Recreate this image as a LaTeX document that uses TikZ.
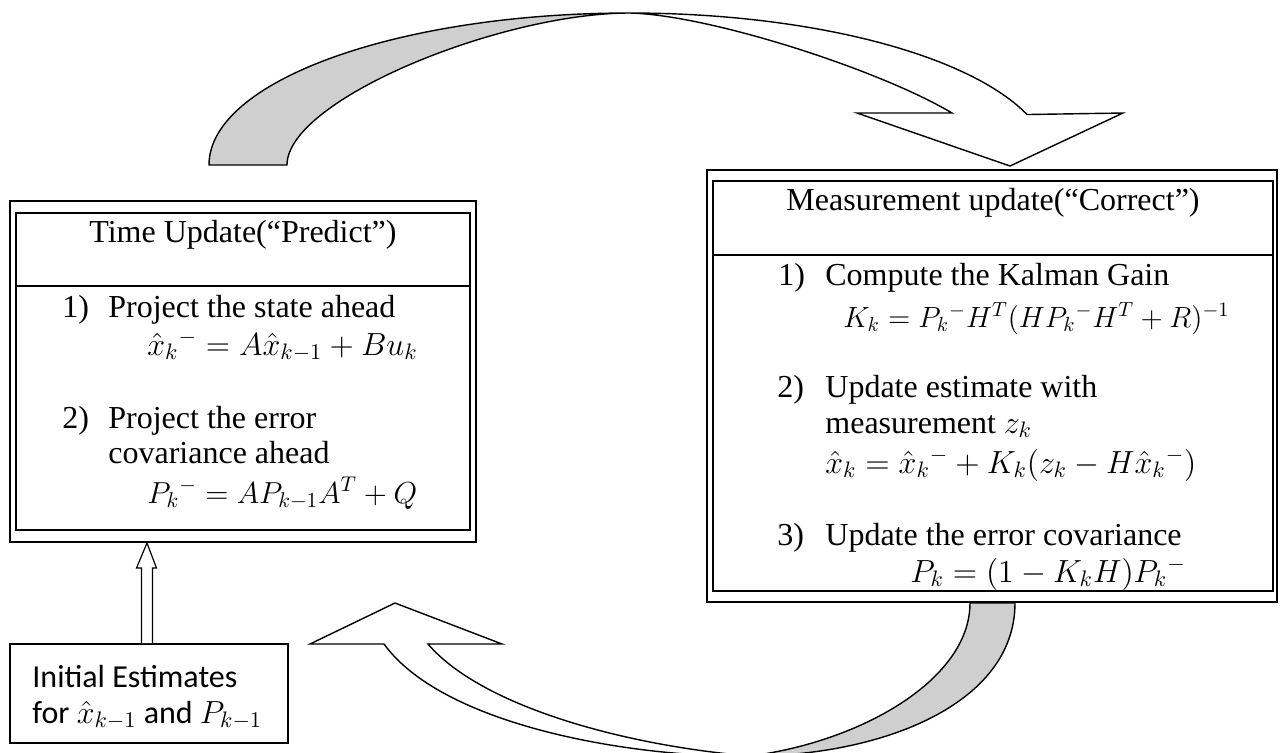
\RequirePackage{fix-cm}
\documentclass[tikz,border=0pt]{standalone}
\usepackage{amsmath}
\usepackage{fontspec}
\setmainfont{Liberation Serif}
\newfontfamily\cali{Carlito}
\usetikzlibrary{calc}
\definecolor{bandgray}{RGB}{207,207,207}
\begin{document}
\begin{tikzpicture}[x=0.5pt,y=-0.5pt,
  txt/.style={inner sep=0pt, anchor=base west, font=\fontsize{16}{18.5}\selectfont},
  ttl/.style={inner sep=0pt, anchor=base, font=\fontsize{16}{18.5}\selectfont},
  boxline/.style={draw, line width=1pt, inner sep=0pt},
  band/.style={draw, line width=0.7pt, fill=bandgray},
  face/.style={draw, line width=0.7pt, fill=white},
  hollow/.style={draw, line width=0.6pt, fill=white}]
\useasboundingbox (0,0) rectangle (1282,752);

% curved arrow on top (Predict -> Correct)
\path[band] (209,165) .. controls (209,81) and (398,13) .. (630,13)
  .. controls (500,13) and (287,100) .. (287,165) -- cycle;
\path[face] (630,13) -- plot[domain=90:19.4, samples=40] ({630+421*cos(\x)},{165-152*sin(\x)})
  -- (1123,113) -- (1010,166) -- (857,113) -- (952,113)
  .. controls (880,70) and (710,15) .. (630,13) -- cycle;

% curved arrow at bottom (Correct -> Predict)
\path[band] (1015,603) .. controls (1015,705) and (880,756) .. (750,756)
  .. controls (860,742) and (970,680) .. (970,603) -- cycle;
\path[face] (750,756) .. controls (640,758) and (445,728) .. (384,644)
  -- (310,644) -- (395,603) -- (502,644) -- (428,644)
  .. controls (480,705) and (620,745) .. (750,756) -- cycle;

% Time update box
\node[boxline, minimum width=233pt, minimum height=170.5pt] (tuo) at (243,371.5) {};
\node[boxline, minimum width=227pt, minimum height=158.5pt] (tu) at (243,371.5) {};
\coordinate (d1) at (0,286);
\draw[line width=1pt] (tu.west |- d1) -- (tu.east |- d1);
\node[ttl] (tut) at (243,242) {Time Update(“Predict”)};
\node[txt] (l1n) at (62,317) {1)};
\node[txt] (l1t) at (108,317) {Project the state ahead};
\node[txt] (l1f) at (147,355) {$\hat{x}_k{}^{-} = A\hat{x}_{k-1} + Bu_k$};
\node[txt] (l2n) at (62,428) {2)};
\node[txt] (l2t) at (108,428) {Project the error};
\node[txt] (l2u) at (108,463) {covariance ahead};
\node[txt, font=\fontsize{15.2}{18}\selectfont] (l2f) at (147,503) {$P_k{}^{-} = AP_{k-1}A^{T} + Q$};

% Measurement update box
\node[boxline, minimum width=285pt, minimum height=216pt] (muo) at (992,386) {};
\node[boxline, minimum width=280pt, minimum height=205pt] (mu) at (993,386) {};
\coordinate (d2) at (0,255);
\draw[line width=1pt] (mu.west |- d2) -- (mu.east |- d2);
\node[ttl] (mut) at (993,210) {Measurement update(“Correct”)};
\node[txt] (r1n) at (778,285) {1)};
\node[txt] (r1t) at (825,285) {Compute the Kalman Gain};
\node[txt, font=\fontsize{14.6}{18}\selectfont] (r1f) at (843,327) {$K_k = P_k{}^{-}H^{T}(HP_k{}^{-}H^{T}+R)^{-1}$};
\node[txt] (r2n) at (777,397) {2)};
\node[txt] (r2t) at (825,397) {Update estimate with};
\node[txt] (r2u) at (825,433) {measurement $z_k$};
\node[txt] (r2f) at (825,473) {$\hat{x}_k = \hat{x}_k{}^{-} + K_k(z_k - H\hat{x}_k{}^{-})$};
\node[txt] (r3n) at (777,545) {3)};
\node[txt] (r3t) at (825,545) {Update the error covariance};
\node[txt] (r3f) at (910,582) {$P_k = (1 - K_kH)P_k{}^{-}$};

% Initial estimates box
\node[boxline, minimum width=139pt, minimum height=49.5pt] (init) at (149,693.5) {};
\node[txt, font=\cali\fontsize{16}{19}\selectfont] (i1) at (32,687) {Initial Estimates};
\node[txt, font=\cali\fontsize{16}{19}\selectfont] (i2) at (32,723) {for $\hat{x}_{k-1}$ and $P_{k-1}$};

% hollow arrow from initial estimates to time update
\coordinate (ib) at ($(init.north)+(-2,0)$);
\path[hollow] ($(ib)+(-5.5,0)$) -- ($(ib)+(-5.5,-75)$) -- ($(ib)+(-10.5,-75)$)
  -- (ib |- tuo.south) -- ($(ib)+(9.5,-75)$) -- ($(ib)+(5.5,-75)$) -- ($(ib)+(5.5,0)$);
\end{tikzpicture}
\end{document}
